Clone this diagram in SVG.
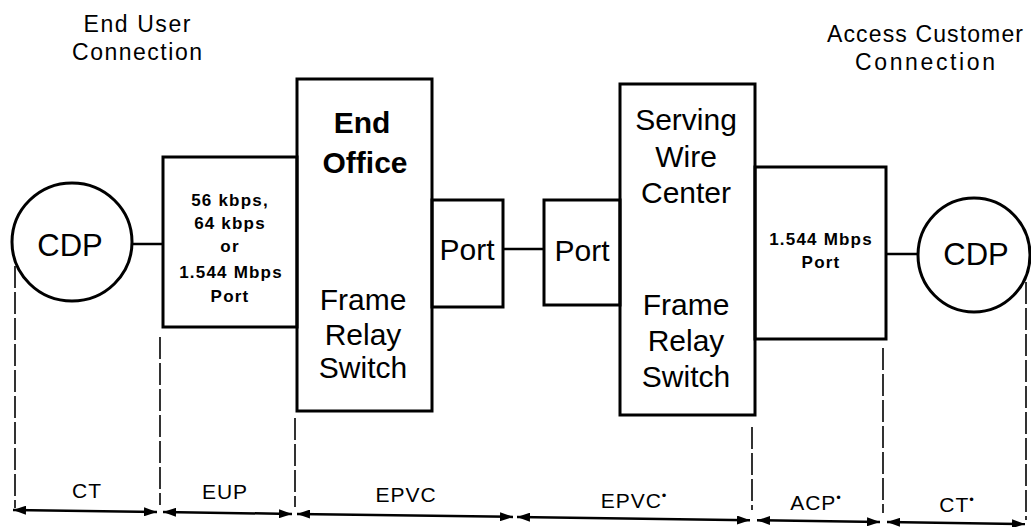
<svg xmlns="http://www.w3.org/2000/svg" width="1031" height="527" viewBox="0 0 1031 527">
<style>
  .box { fill: none; stroke: #000; stroke-width: 3; }
  .circ { fill: none; stroke: #000; stroke-width: 3; }
  .wire { stroke: #000; stroke-width: 2.5; fill: none; }
  .dash { stroke: #000; stroke-width: 1.6; stroke-dasharray: 22 4; fill: none; }
  .dim { stroke: #000; stroke-width: 2.5; fill: none; marker-start: url(#ah); marker-end: url(#ah); }
  text { font-family: "Liberation Sans", Arial, Helvetica, sans-serif; fill: #000; text-anchor: middle; }
  .hdr { font-size: 23px; }
  .big { font-size: 30px; }
  .bold { font-weight: bold; }
  .small { font-size: 17px; font-weight: bold; letter-spacing: 1.2px; }
  .cdp { font-size: 31px; }
  .lbl { font-size: 21px; letter-spacing: 1px; }
</style>
<defs>
  <marker id="ah" viewBox="0 0 13 9" refX="13" refY="4.5" markerWidth="13" markerHeight="9" markerUnits="userSpaceOnUse" orient="auto-start-reverse">
    <path d="M0,0 L13,4.5 L0,9 z" fill="#000"/>
  </marker>
</defs>

<g id="label-end-user">
  <text class="hdr" x="137" y="32" textLength="107" lengthAdjust="spacing">End User</text>
  <text class="hdr" x="137" y="60" textLength="130" lengthAdjust="spacing">Connection</text>
</g>
<g id="label-access-customer">
  <text class="hdr" x="925" y="42" textLength="196" lengthAdjust="spacing">Access Customer</text>
  <text class="hdr" x="925" y="70" textLength="140" lengthAdjust="spacing">Connection</text>
</g>

<g id="connectors">
  <line class="wire" x1="132" y1="244" x2="163" y2="244"/>
  <line class="wire" x1="503" y1="249" x2="544" y2="249"/>
  <line class="wire" x1="886" y1="254" x2="918" y2="254"/>
  <line class="dash" x1="15" y1="266" x2="15" y2="508"/>
  <line class="dash" x1="160" y1="337" x2="160" y2="505"/>
  <line class="dash" x1="295" y1="418" x2="295" y2="507"/>
  <line class="dash" x1="752" y1="427" x2="752" y2="510"/>
  <line class="dash" x1="883" y1="348" x2="883" y2="513"/>
  <line class="dash" x1="1026" y1="282" x2="1026" y2="520"/>
  <line class="dim" x1="13" y1="510" x2="157" y2="512"/>
  <line class="dim" x1="163" y1="512.1" x2="292" y2="513.9"/>
  <line class="dim" x1="297" y1="513.9" x2="513" y2="516.9"/>
  <line class="dim" x1="517" y1="517" x2="750" y2="520.2"/>
  <line class="dim" x1="757" y1="520.3" x2="880" y2="522"/>
  <line class="dim" x1="887" y1="522.1" x2="1025" y2="524"/>
</g>

<g id="cdp-left">
  <ellipse class="circ" cx="72" cy="242" rx="60" ry="59"/>
  <text class="cdp" x="70" y="256">CDP</text>
</g>

<g id="eup-port">
  <rect class="box" x="163" y="157" width="134" height="170"/>
  <text class="small" x="230" y="206">56 kbps,</text>
  <text class="small" x="230" y="229">64 kbps</text>
  <text class="small" x="230" y="252">or</text>
  <text class="small" x="231" y="278">1.544 Mbps</text>
  <text class="small" x="230" y="302">Port</text>
</g>

<g id="end-office">
  <rect class="box" x="297" y="79" width="135" height="332"/>
  <text class="big bold" x="362" y="133">End</text>
  <text class="big bold" x="365" y="173">Office</text>
  <text class="big" x="363" y="310">Frame</text>
  <text class="big" x="363" y="345">Relay</text>
  <text class="big" x="363" y="378">Switch</text>
</g>

<g id="port-left">
  <rect class="box" x="432" y="200" width="71" height="107"/>
  <text class="big" x="467" y="260">Port</text>
</g>

<g id="port-right">
  <rect class="box" x="544" y="200" width="76" height="105"/>
  <text class="big" x="582" y="261">Port</text>
</g>

<g id="serving-wire-center">
  <rect class="box" x="620" y="84" width="135" height="331"/>
  <text class="big" x="686" y="130">Serving</text>
  <text class="big" x="686" y="167">Wire</text>
  <text class="big" x="686" y="203">Center</text>
  <text class="big" x="686" y="315">Frame</text>
  <text class="big" x="686" y="351">Relay</text>
  <text class="big" x="686" y="387">Switch</text>
</g>

<g id="acp-port">
  <rect class="box" x="755" y="167" width="131" height="172"/>
  <text class="small" x="821" y="245">1.544 Mbps</text>
  <text class="small" x="821" y="268">Port</text>
</g>

<g id="cdp-right">
  <ellipse class="circ" cx="974" cy="255" rx="56" ry="57"/>
  <text class="cdp" x="976" y="265">CDP</text>
</g>

<g id="segment-labels">
  <text class="lbl" x="87" y="498">CT</text>
  <text class="lbl" x="225" y="499">EUP</text>
  <text class="lbl" x="406" y="502">EPVC</text>
  <text class="lbl" x="634" y="508">EPVC<tspan font-size="13" dy="-8">•</tspan></text>
  <text class="lbl" x="816" y="510">ACP<tspan font-size="13" dy="-8">•</tspan></text>
  <text class="lbl" x="957" y="512">CT<tspan font-size="13" dy="-8">•</tspan></text>
</g>
</svg>
